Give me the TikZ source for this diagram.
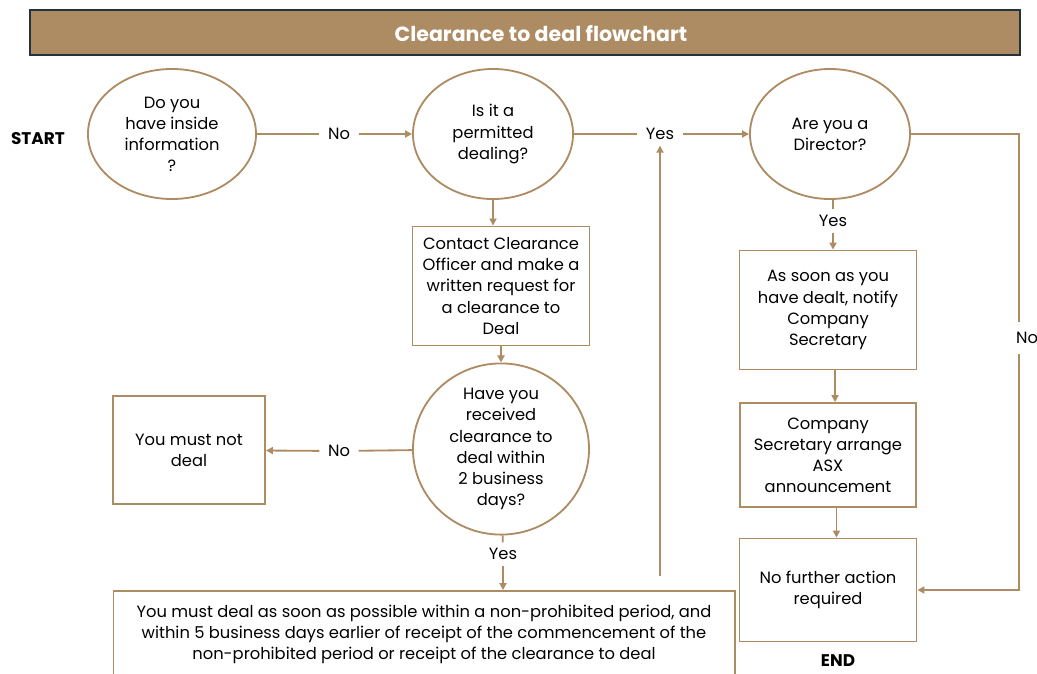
\documentclass[tikz,border=0pt]{standalone}
\usepackage{fontspec}
\setmainfont{Poppins}
\usetikzlibrary{arrows.meta,shapes.geometric,positioning}
\definecolor{tan}{HTML}{AD8B63}
\definecolor{bardark}{HTML}{24323B}

\begin{document}
\begin{tikzpicture}[x=0.025cm,y=-0.025cm,
    font=\fontsize{11.6}{15}\selectfont,
    line/.style={draw=tan,line width=1.3pt},
    arr/.style={line,-{Triangle[length=5pt,width=5pt]}},
    quest/.style={ellipse,draw=tan,line width=1.3pt,inner sep=0pt,align=center},
    stepbox/.style={rectangle,draw=tan,line width=1.3pt,align=center},
    lbl/.style={inner xsep=6pt,inner ysep=4pt}]
  \useasboundingbox (0,0) rectangle (1037,673);

  \path[draw=bardark,fill=tan,line width=0.8pt] (30,10) rectangle (1020,55);
  \node[text=white,font=\fontsize{14.6}{16}\selectfont\bfseries] (title) at (541,34) {Clearance to deal flowchart};

  \node[font=\fontsize{12}{15}\selectfont\bfseries] (start) at (38,139) {START};
  \node[quest,minimum width=4.2cm,minimum height=3.25cm] (q1) at (172,134) {Do you\\have inside\\information\\?};
  \node[quest,minimum width=4cm,minimum height=3.25cm] (q2) at (493,134) {Is it a\\permitted\\dealing?};
  \node[quest,minimum width=4cm,minimum height=3.25cm] (q3) at (830,134) {Are you a\\Director?};

  \node[stepbox,minimum width=4.425cm,minimum height=2.975cm] (contact) at (501,286) {Contact Clearance\\Officer and make a\\written request for\\a clearance to\\Deal};
  \node[quest,minimum width=4.4cm,minimum height=4.075cm] (q4) at (501,449) {Have you\\received\\clearance to\\deal within\\2 business\\days?};
  \node[stepbox,minimum width=3.8cm,minimum height=2.7cm] (nodeal) at (189,450) {You must not\\deal};
  \node[stepbox,minimum width=15.525cm,minimum height=2.15cm] (mustdeal) at (424,634) {You must deal as soon as possible within a non-prohibited period, and\\within 5 business days earlier of receipt of the commencement of the\\non-prohibited period or receipt of the clearance to deal};

  \node[stepbox,minimum width=4.425cm,minimum height=2.975cm] (notify) at (828,310) {As soon as you\\have dealt, notify\\Company\\Secretary};
  \node[stepbox,minimum width=4.4cm,minimum height=2.6cm] (asx) at (828,455) {Company\\Secretary arrange\\ASX\\announcement};
  \node[stepbox,minimum width=4.425cm,minimum height=2.575cm] (endbox) at (828,590) {No further action\\required};
  \node[font=\fontsize{12}{15}\selectfont\bfseries] (end) at (838,661) {END};

  \node[lbl] (no1) at (339,134) {No};
  \node[lbl] (yes2) at (660,134) {Yes};
  \node[lbl] (yes3) at (833,221) {Yes};
  \node[lbl] (no4) at (339,451) {No};
  \node[lbl] (yes4) at (503,554) {Yes};
  \node[lbl,inner ysep=7pt] (no5) at (1027,338) {No};
  \coordinate (rt) at (1019,134);

  \draw[line] (q1) -- (no1);
  \draw[arr] (no1) -- (q2);
  \draw[line] (q2) -- (yes2);
  \draw[arr] (yes2) -- (q3);
  \draw[arr,shorten <=10pt] (mustdeal.north -| yes2) -- (yes2);

  \draw[arr] (q2.south) -- (q2.south |- contact.north);
  \draw[arr] (contact) -- (q4);
  \draw[line] (q4) -- (no4);
  \draw[arr] (no4) -- (nodeal);
  \draw[line] (q4) -- (yes4);
  \draw[arr] (yes4) -- (yes4 |- mustdeal.north);

  \draw[line] (q3.south -| yes3) -- (yes3);
  \draw[arr] (yes3) -- (yes3 |- notify.north);
  \draw[arr] ([xshift=5pt] notify.south) -- ([xshift=5pt] asx.north);
  \draw[arr] ([xshift=6pt] asx.south) -- ([xshift=6pt] endbox.north);
  \draw[line] (q3.east) -- (rt) -- (rt |- no5.north);
  \draw[arr] (rt |- no5.south) |- (endbox.east);
\end{tikzpicture}
\end{document}
